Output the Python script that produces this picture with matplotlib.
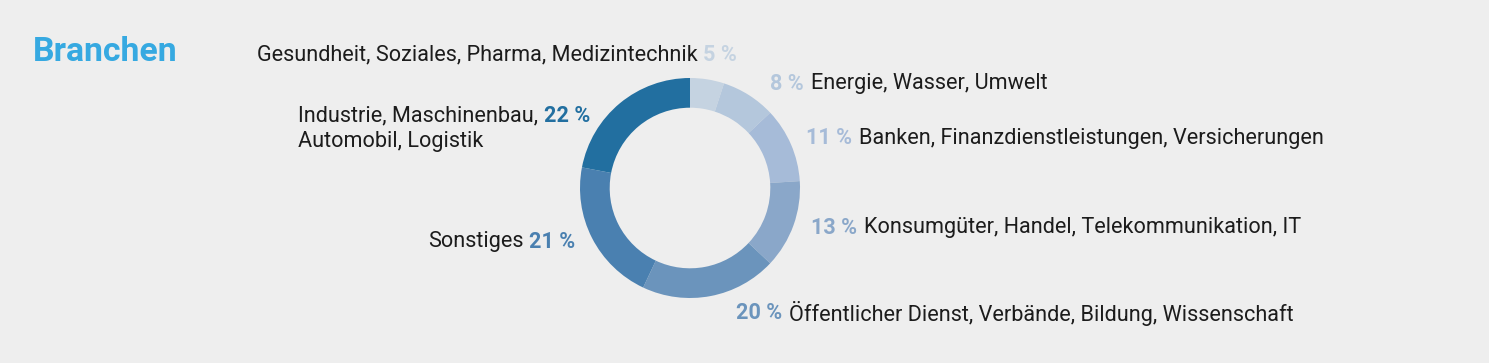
import matplotlib.pyplot as plt

plt.rcParams['font.family'] = ['Roboto', 'DejaVu Sans']

# Anteile im Uhrzeigersinn ab 12 Uhr
labels = ['Gesundheit, Soziales, Pharma, Medizintechnik',
          'Energie, Wasser, Umwelt',
          'Banken, Finanzdienstleistungen, Versicherungen',
          'Konsumgüter, Handel, Telekommunikation, IT',
          'Öffentlicher Dienst, Verbände, Bildung, Wissenschaft',
          'Sonstiges',
          'Industrie, Maschinenbau,\nAutomobil, Logistik']
values = [5, 8, 11, 13, 20, 21, 22]
colors = ['#c5d3e1', '#b4c7dc', '#a6bbd8', '#8aa7c9', '#6b94bc', '#4a80b0', '#226fa0']

W, H = 1489, 363
bg = '#eeeeee'
txt = '#1c1c1c'
fs = 15.6

fig = plt.figure(figsize=(W / 100, H / 100), dpi=100, facecolor=bg)

# Donut: Mitte (690, 188) px, Radius 110 px
cx, cy, r = 690, 188, 110
ax = fig.add_axes([(cx - r) / W, (H - cy - r) / H, 2 * r / W, 2 * r / H])
ax.set_facecolor(bg)
ax.pie(values, colors=colors, startangle=90, counterclock=False, radius=1,
       wedgeprops=dict(width=0.27, linewidth=0))
ax.set_xlim(-1, 1)
ax.set_ylim(-1, 1)
ax.axis('off')


def px(x, y):
    return x / W, 1 - y / H


fig.text(*px(33, 52), 'Branchen', color='#36a9e1', fontsize=24.3, fontweight='bold',
         va='center', ha='left')


def pct_first(x, y, i):
    t = fig.text(*px(x, y), f'{values[i]} %', color=colors[i], fontsize=fs,
                 fontweight='bold', va='center', ha='left')
    ax.annotate(labels[i], xy=(1, 0.5), xycoords=t, xytext=(5, 0),
                textcoords='offset points', fontsize=fs, color=txt,
                va='center', ha='left', annotation_clip=False)


def label_first(x, y, i):
    t = fig.text(*px(x, y), f'{values[i]} %', color=colors[i], fontsize=fs,
                 fontweight='bold', va='center', ha='right')
    ax.annotate(labels[i], xy=(0, 0.5), xycoords=t, xytext=(-4, 0),
                textcoords='offset points', fontsize=fs, color=txt,
                va='center', ha='right', annotation_clip=False)


label_first(737, 55, 0)
pct_first(770, 84, 1)
pct_first(806, 138, 2)
pct_first(811, 228, 3)
pct_first(736, 313, 4)
label_first(575, 242, 5)

# Industrie: zweizeilig, Prozent am Ende der ersten Zeile
l1, l2 = labels[6].split('\n')
t1 = fig.text(*px(298, 116), l1, fontsize=fs, color=txt, va='center', ha='left')
ax.annotate(f'{values[6]} %', xy=(1, 0.5), xycoords=t1, xytext=(4, 0),
            textcoords='offset points', fontsize=fs, color=colors[6],
            fontweight='bold', va='center', ha='left', annotation_clip=False)
fig.text(*px(298, 141), l2, fontsize=fs, color=txt, va='center', ha='left')

fig.savefig('out.png', dpi=100, facecolor=bg)
